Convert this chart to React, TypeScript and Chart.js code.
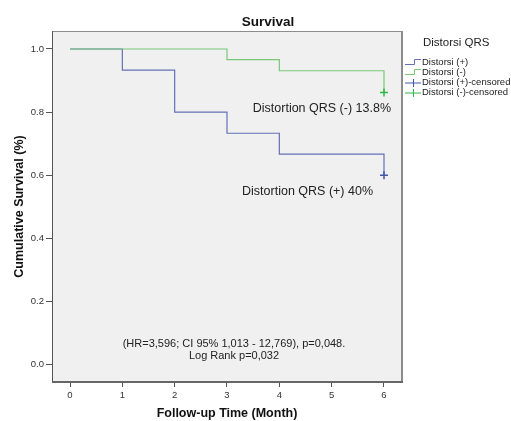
import React, { useEffect, useRef } from "react";
import { Chart, registerables } from "chart.js";

Chart.register(...registerables);

const FONT = '"Liberation Sans", Arial, Helvetica, sans-serif';

// ---- texts ----
const chartTitle = "Survival";
const xAxisTitle = "Follow-up Time (Month)";
const yAxisTitle = "Cumulative Survival (%)";
const legendTitle = "Distorsi QRS";
const legendLabels = [
  "Distorsi (+)",
  "Distorsi (-)",
  "Distorsi (+)-censored",
  "Distorsi (-)-censored",
];
const labelNegative = "Distortion QRS (-) 13.8%";
const labelPositive = "Distortion QRS (+) 40%";
const statLines = ["(HR=3,596; CI 95% 1,013 - 12,769), p=0,048.", "Log Rank p=0,032"];

// ---- ticks ----
const xTickValues = [0, 1, 2, 3, 4, 5, 6];
const yTickValues = [0, 0.2, 0.4, 0.6, 0.8, 1.0];

// ---- data ----
const timePositive = [0, 1, 2, 3, 4, 6];
const survivalPositive = [1.0, 0.933, 0.8, 0.733, 0.667, 0.6];
const timeNegative = [0, 3, 4, 6];
const survivalNegative = [1.0, 0.966, 0.931, 0.862];
const censorTimePositive = [6];
const censorSurvivalPositive = [0.6];
const censorTimeNegative = [6];
const censorSurvivalNegative = [0.862];

// ---- colours ----
const bluePos = "#6470b6";
const greenNeg = "#78c878";
const censorBlue = "#3e58ac";
const censorGreen = "#2eb848";

const toPoints = (xs: number[], ys: number[]) => xs.map((x, i) => ({ x, y: ys[i] }));

const decorPlugin = {
  id: "decor",
  beforeDraw(chart: any) {
    const { ctx, chartArea: a } = chart;
    ctx.save();
    ctx.fillStyle = "#f0f0f0";
    ctx.fillRect(a.left, a.top, a.right - a.left, a.bottom - a.top);
    ctx.restore();
  },
  afterDraw(chart: any) {
    const { ctx, chartArea: a } = chart;
    const xs = chart.scales.x;
    const ys = chart.scales.y;
    ctx.save();
    // frame
    ctx.strokeStyle = "#8c8c8c";
    ctx.lineWidth = 1;
    ctx.beginPath();
    ctx.moveTo(a.left, a.top + 0.5);
    ctx.lineTo(a.right, a.top + 0.5);
    ctx.stroke();
    ctx.lineWidth = 2;
    ctx.beginPath();
    ctx.moveTo(a.right, a.top);
    ctx.lineTo(a.right, a.bottom);
    ctx.stroke();
    ctx.strokeStyle = "#555";
    ctx.lineWidth = 1;
    ctx.beginPath();
    ctx.moveTo(a.left + 0.5, a.top);
    ctx.lineTo(a.left + 0.5, a.bottom);
    ctx.stroke();
    ctx.strokeStyle = "#666";
    ctx.lineWidth = 2;
    ctx.beginPath();
    ctx.moveTo(a.left, a.bottom);
    ctx.lineTo(a.right + 1, a.bottom);
    ctx.stroke();

    // title
    ctx.fillStyle = "#111";
    ctx.font = `bold 13.5px ${FONT}`;
    ctx.textAlign = "center";
    ctx.textBaseline = "middle";
    ctx.fillText(chartTitle, 268, 22);

    // annotations
    ctx.font = `12.5px ${FONT}`;
    ctx.fillStyle = "#222";
    ctx.textAlign = "right";
    ctx.fillText(labelNegative, xs.getPixelForValue(6) + 7, ys.getPixelForValue(0.862) + 16);
    ctx.fillText(labelPositive, xs.getPixelForValue(6) - 11, ys.getPixelForValue(0.6) + 16);

    ctx.font = `11px ${FONT}`;
    ctx.textAlign = "center";
    const cx = (a.left + a.right) / 2 + 7;
    const y0 = ys.getPixelForValue(0);
    ctx.fillText(statLines[0], cx, y0 - 21);
    ctx.fillText(statLines[1], cx, y0 - 9);

    // legend
    const lx = a.right + 3;
    ctx.textAlign = "left";
    ctx.font = `11.5px ${FONT}`;
    ctx.fillStyle = "#222";
    ctx.fillText(legendTitle, 423, 43);
    const rowY = [62, 72, 82.5, 92.5];
    const rowColors = [bluePos, greenNeg, censorBlue, censorGreen];
    ctx.font = `9.5px ${FONT}`;
    legendLabels.forEach((lab, i) => {
      const y = rowY[i];
      ctx.strokeStyle = rowColors[i];
      ctx.lineWidth = 1;
      ctx.beginPath();
      if (i < 2) {
        ctx.moveTo(lx, y + 2.5);
        ctx.lineTo(lx + 9.5, y + 2.5);
        ctx.lineTo(lx + 9.5, y - 2.5);
        ctx.lineTo(lx + 16, y - 2.5);
      } else {
        ctx.moveTo(lx, y + 0.5);
        ctx.lineTo(lx + 16, y + 0.5);
        ctx.moveTo(lx + 8.5, y - 3.5);
        ctx.lineTo(lx + 8.5, y + 4.5);
      }
      ctx.stroke();
      ctx.fillStyle = "#222";
      ctx.fillText(lab, lx + 17, y);
    });
    ctx.restore();
  },
};

export default function App() {
  const canvasRef = useRef<HTMLCanvasElement | null>(null);

  useEffect(() => {
    if (!canvasRef.current) return;
    const chart = new Chart(canvasRef.current, {
      type: "line",
      data: {
        datasets: [
          {
            type: "scatter",
            label: legendLabels[2],
            data: toPoints(censorTimePositive, censorSurvivalPositive),
            pointStyle: "cross",
            pointRadius: 4,
            borderColor: censorBlue,
            backgroundColor: censorBlue,
            borderWidth: 1.5,
            order: 0,
          },
          {
            type: "scatter",
            label: legendLabels[3],
            data: toPoints(censorTimeNegative, censorSurvivalNegative),
            pointStyle: "cross",
            pointRadius: 4,
            borderColor: censorGreen,
            backgroundColor: censorGreen,
            borderWidth: 1.5,
            order: 0,
          },
          {
            label: legendLabels[1],
            data: toPoints(timeNegative, survivalNegative),
            borderColor: greenNeg,
            borderWidth: 1.2,
            stepped: "before",
            pointRadius: 0,
            fill: false,
            order: 1,
          },
          {
            label: legendLabels[0],
            data: toPoints(timePositive, survivalPositive),
            borderColor: bluePos,
            borderWidth: 1.2,
            stepped: "before",
            pointRadius: 0,
            fill: false,
            order: 2,
          },
        ],
      } as any,
      options: {
        animation: false,
        responsive: false,
        maintainAspectRatio: false,
        layout: { padding: { left: 8, top: 31, right: 109, bottom: 0 } },
        plugins: {
          legend: { display: false },
          title: { display: false },
          tooltip: { enabled: false },
        },
        scales: {
          x: {
            type: "linear",
            min: -0.344,
            max: 6.344,
            afterBuildTicks: (s: any) => {
              s.ticks = xTickValues.map((v) => ({ value: v }));
            },
            afterFit: (s: any) => {
              s.height = 39;
            },
            grid: {
              display: true,
              drawOnChartArea: false,
              drawTicks: true,
              tickLength: 5,
              tickColor: "#555",
            },
            border: { display: false },
            ticks: {
              autoSkip: false,
              maxRotation: 0,
              padding: 3,
              color: "#333",
              font: { family: FONT, size: 9.5 },
              callback: (v: any) => String(v),
            },
            title: {
              display: true,
              text: xAxisTitle,
              color: "#111",
              font: { family: FONT, size: 12.5, weight: "bold" },
              padding: { top: 8, bottom: 0 },
            },
          },
          y: {
            type: "linear",
            min: -0.055,
            max: 1.057,
            afterBuildTicks: (s: any) => {
              s.ticks = yTickValues.map((v) => ({ value: v }));
            },
            afterFit: (s: any) => {
              s.width = 44;
            },
            grid: {
              display: true,
              drawOnChartArea: false,
              drawTicks: true,
              tickLength: 6,
              tickColor: "#555",
            },
            border: { display: false },
            ticks: {
              autoSkip: false,
              padding: 2,
              color: "#333",
              font: { family: FONT, size: 9.5 },
              callback: (v: any) => Number(v).toFixed(1),
            },
            title: {
              display: true,
              text: yAxisTitle,
              color: "#111",
              font: { family: FONT, size: 12.5, weight: "bold" },
              padding: { top: 4, bottom: 0 },
            },
          },
        },
      } as any,
      plugins: [decorPlugin],
    });
    return () => chart.destroy();
  }, []);

  return (
    <div style={{ position: "absolute", left: 0, top: 0, width: 511, height: 421, background: "#fff" }}>
      <canvas ref={canvasRef} width={511} height={421} style={{ display: "block" }} />
    </div>
  );
}
